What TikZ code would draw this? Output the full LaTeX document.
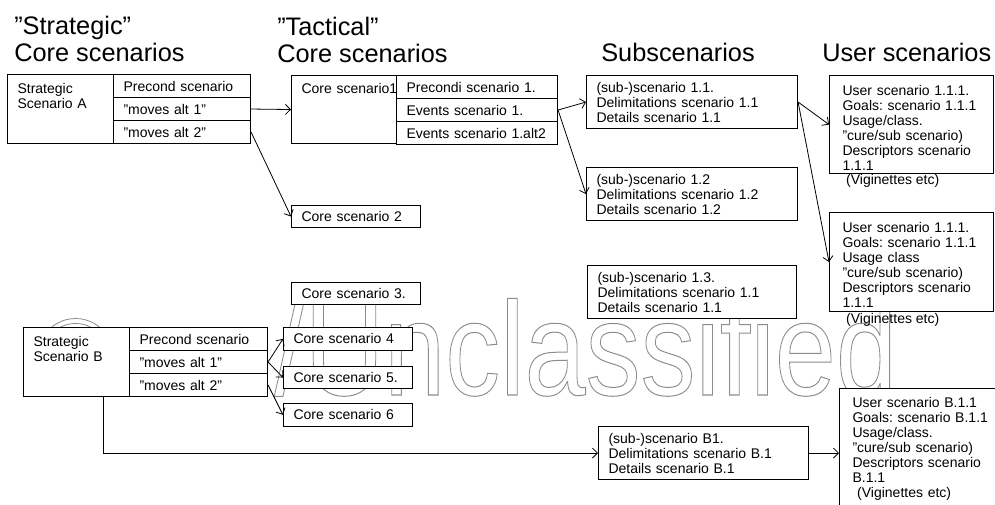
\documentclass[tikz,border=0pt]{standalone}
\usepackage{fontspec}
\setmainfont{Liberation Sans}
\usepackage{graphicx}
\usetikzlibrary{arrows.meta}
\frenchspacing

\newcommand{\boxfont}{\fontsize{10.5}{11.25}\selectfont}
\newcommand{\headfont}{\fontsize{19}{20.25}\selectfont}
% hollow letters for the stamp
\newcommand{\outlined}[1]{\special{pdf:literal direct 1 Tr 0.6 w}#1\special{pdf:literal direct 0 Tr}}

\begin{document}
\begin{tikzpicture}[x=0.75pt,y=0.75pt,yscale=-1,xscale=1,
  box/.style={draw, line width=0.8pt, fill=white, anchor=north west, align=left, inner xsep=7.5pt, inner ysep=0pt, font=\boxfont},
  topbox/.style={box, text height=7.5pt},
  userbox/.style={topbox, inner xsep=9.75pt, inner ysep=7.5pt},
  head/.style={anchor=base west, align=left, inner sep=0pt, font=\headfont},
  note/.style={anchor=base west, inner sep=0pt, font=\boxfont},
  stamp/.style={anchor=base west, inner sep=0pt, text=black!45, font=\fontsize{80}{80}\selectfont},
  arr/.style={line width=0.6pt, -{Straight Barb[length=3.75pt,width=7.5pt]}}]

\useasboundingbox (0,0) rectangle (995,505);
\fill[white] (0,0) rectangle (995,505);
\clip (0,0) rectangle (995,505);

% Stamp
\node[stamp] (wmC) at (36,393) {\outlined{©}};
\node[stamp] (wmT) at (274,395) {\scalebox{1.03}[1.25]{\outlined{/Unclassified}}};

% Headings (anchored on their last line)
\node[head] (tStrat) at (14,62) {”Strategic”\\Core scenarios};
\node[head] (tTact) at (277,63) {”Tactical”\\Core scenarios};
\node[head] (tSub) at (601,62) {Subscenarios};
\node[head] (tUser) at (822,62) {User scenarios};

%Shape: Strategic scenario A
\node[topbox, inner ysep=6.75pt, text width=64.5pt, text depth=30.75pt] (sAcell) at (7,74) {Strategic\\Scenario A};
\node[box, text width=87.75pt, minimum height=17.25pt] (sApre) at (113,74) {Precond scenario};
\node[box, text width=87.75pt, minimum height=17.25pt] (sAalt1) at (113,97) {”moves alt 1”};
\node[box, text width=87.75pt, minimum height=17.25pt] (sAalt2) at (113,120) {”moves alt 2”};

%Shape: Core scenario 1
\node[topbox, inner ysep=6pt, text width=63.75pt, text depth=31.5pt] (tacCell) at (291,75) {\mbox{Core scenario1}};
\node[box, text width=105.75pt, minimum height=17.25pt] (tPre) at (396,75) {Precondi scenario 1.};
\node[box, text width=105.75pt, minimum height=17.25pt] (tEv1) at (396,98) {Events scenario 1.};
\node[box, text width=105.75pt, minimum height=17.25pt] (tEv2) at (396,121) {Events scenario 1.alt2};

%Shape: other core scenarios
\node[box, text width=81.75pt, minimum height=16.5pt] (core2) at (291,205) {Core scenario 2};
\node[box, text width=81.75pt, minimum height=16.5pt] (core3) at (291,282) {Core scenario 3.};
\node[box, text width=81.75pt, minimum height=17pt] (core4) at (283,327) {Core scenario 4};
\node[box, text width=81.75pt, minimum height=16.5pt] (core5) at (283,366) {Core scenario 5.};
\node[box, text width=81.75pt, minimum height=17pt] (core6) at (283,403) {Core scenario 6};

%Shape: Strategic scenario B
\node[topbox, inner ysep=6.5pt, text width=64.5pt, text depth=31.25pt] (sBcell) at (23,327) {Strategic\\Scenario B};
\node[box, text width=88.5pt, minimum height=17.25pt] (sBpre) at (129,327) {Precond scenario};
\node[box, text width=88.5pt, minimum height=17.25pt] (sBalt1) at (129,350) {”moves alt 1”};
\node[box, text width=88.5pt, minimum height=17.25pt] (sBalt2) at (129,373) {”moves alt 2”};

%Shape: subscenarios
\node[box, text width=143.25pt, minimum height=39.75pt] (sub11) at (586,75) {(sub-)scenario 1.1.\\Delimitations scenario 1.1\\Details scenario 1.1};
\node[box, text width=143.25pt, minimum height=39.75pt] (sub12) at (586,167) {(sub-)scenario 1.2\\Delimitations scenario 1.2\\Details scenario 1.2};
\node[box, text width=141.75pt, minimum height=39.75pt] (sub13) at (587,265) {(sub-)scenario 1.3.\\Delimitations scenario 1.1\\Details scenario 1.1};
\node[box, text width=142.5pt, minimum height=39.75pt] (subB1) at (598,426) {(sub-)scenario B1.\\Delimitations scenario B.1\\Details scenario B.1};

%Shape: user scenarios
\node[userbox, text width=103.5pt, text depth=51pt] (us1) at (829,75) {User scenario 1.1.1.\\Goals: scenario 1.1.1\\Usage/class.\\”cure/sub scenario)\\Descriptors scenario\\1.1.1};
\node[note] (us1note) at (842,185) {\ (Viginettes etc)};
\node[userbox, text width=103.5pt, text depth=51.75pt] (us2) at (829,212) {User scenario 1.1.1.\\Goals: scenario 1.1.1\\Usage class\\”cure/sub scenario)\\Descriptors scenario\\1.1.1};
\node[note] (us2note) at (842,324) {\ (Viginettes etc)};
\node[userbox, inner ysep=6.75pt, text width=108pt, text depth=84pt] (usB) at (839,388) {User scenario B.1.1\\Goals: scenario B.1.1\\Usage/class.\\”cure/sub scenario)\\Descriptors scenario\\B.1.1\\\ (Viginettes etc)};

%Straight Lines
\draw[arr] (sAalt1.east) -- (tacCell.west);
\draw[arr] (sAalt2.east) -- (core2.west);
\draw[arr] (tEv1.east) -- (sub11.west);
\draw[arr] (tEv1.east) -- (sub12.west);
\draw[arr] (sub11.east) -- (us1.west);
\draw[arr] (sub11.east) -- (us2.west);
\draw[arr] (sBalt1.east) -- (core4.west);
\draw[arr] (sBalt1.east) -- (core5.west);
\draw[arr] (sBalt2.east) -- (core6.west);
\coordinate (bdrop) at (103,453);
\draw[arr] (sBcell.south -| bdrop) |- (subB1.west);
\draw[arr] (subB1.east) -- (subB1.east -| usB.west);

\end{tikzpicture}
\end{document}
